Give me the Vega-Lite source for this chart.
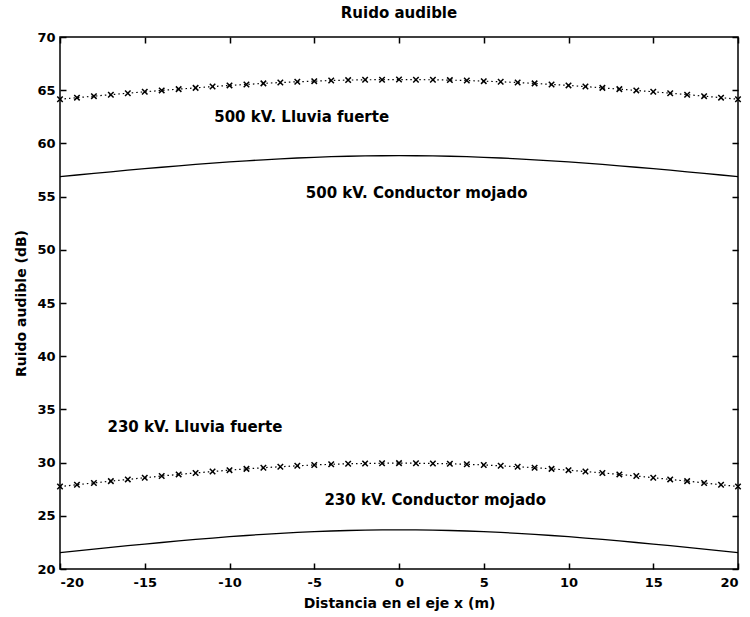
{
  "$schema": "https://vega.github.io/schema/vega-lite/v6.json",
  "autosize": "none",
  "width": 678,
  "height": 532,
  "padding": {"left": 60, "top": 37, "right": 12, "bottom": 48},
  "background": "white",
  "title": {"text": "Ruido audible", "font": "DejaVu Sans", "fontSize": 15, "fontWeight": "bold", "color": "black", "offset": 10},
  "config": {
    "view": {"stroke": "black", "strokeWidth": 1.5},
    "axis": {"labelFont": "DejaVu Sans", "labelFontWeight": "bold", "labelFontSize": 13, "labelColor": "black", "titleFont": "DejaVu Sans", "titleFontWeight": "bold", "titleFontSize": 14, "titleColor": "black", "domain": false, "grid": false, "ticks": true, "tickColor": "black", "tickWidth": 1.5, "tickSize": 6, "offset": -6, "zindex": 2, "labelExpr": "'' + datum.value"}
  },
  "datasets": {
    "curves": [
      {"x": -20, "s": "500 lluvia", "v": 64.15}, {"x": -19, "s": "500 lluvia", "v": 64.30}, {"x": -18, "s": "500 lluvia", "v": 64.44}, {"x": -17, "s": "500 lluvia", "v": 64.58}, {"x": -16, "s": "500 lluvia", "v": 64.72}, {"x": -15, "s": "500 lluvia", "v": 64.85}, {"x": -14, "s": "500 lluvia", "v": 64.98}, {"x": -13, "s": "500 lluvia", "v": 65.10}, {"x": -12, "s": "500 lluvia", "v": 65.22}, {"x": -11, "s": "500 lluvia", "v": 65.34}, {"x": -10, "s": "500 lluvia", "v": 65.45}, {"x": -9, "s": "500 lluvia", "v": 65.54}, {"x": -8, "s": "500 lluvia", "v": 65.64}, {"x": -7, "s": "500 lluvia", "v": 65.72}, {"x": -6, "s": "500 lluvia", "v": 65.79}, {"x": -5, "s": "500 lluvia", "v": 65.85}, {"x": -4, "s": "500 lluvia", "v": 65.91}, {"x": -3, "s": "500 lluvia", "v": 65.95}, {"x": -2, "s": "500 lluvia", "v": 65.98}, {"x": -1, "s": "500 lluvia", "v": 65.99}, {"x": 0, "s": "500 lluvia", "v": 66.00}, {"x": 1, "s": "500 lluvia", "v": 65.99}, {"x": 2, "s": "500 lluvia", "v": 65.98}, {"x": 3, "s": "500 lluvia", "v": 65.95}, {"x": 4, "s": "500 lluvia", "v": 65.91}, {"x": 5, "s": "500 lluvia", "v": 65.85}, {"x": 6, "s": "500 lluvia", "v": 65.79}, {"x": 7, "s": "500 lluvia", "v": 65.72}, {"x": 8, "s": "500 lluvia", "v": 65.64}, {"x": 9, "s": "500 lluvia", "v": 65.54}, {"x": 10, "s": "500 lluvia", "v": 65.45}, {"x": 11, "s": "500 lluvia", "v": 65.34}, {"x": 12, "s": "500 lluvia", "v": 65.22}, {"x": 13, "s": "500 lluvia", "v": 65.10}, {"x": 14, "s": "500 lluvia", "v": 64.98}, {"x": 15, "s": "500 lluvia", "v": 64.85}, {"x": 16, "s": "500 lluvia", "v": 64.72}, {"x": 17, "s": "500 lluvia", "v": 64.58}, {"x": 18, "s": "500 lluvia", "v": 64.44}, {"x": 19, "s": "500 lluvia", "v": 64.30}, {"x": 20, "s": "500 lluvia", "v": 64.15},
      {"x": -20, "s": "230 lluvia", "v": 27.75}, {"x": -19, "s": "230 lluvia", "v": 27.92}, {"x": -18, "s": "230 lluvia", "v": 28.09}, {"x": -17, "s": "230 lluvia", "v": 28.26}, {"x": -16, "s": "230 lluvia", "v": 28.42}, {"x": -15, "s": "230 lluvia", "v": 28.58}, {"x": -14, "s": "230 lluvia", "v": 28.74}, {"x": -13, "s": "230 lluvia", "v": 28.89}, {"x": -12, "s": "230 lluvia", "v": 29.03}, {"x": -11, "s": "230 lluvia", "v": 29.16}, {"x": -10, "s": "230 lluvia", "v": 29.29}, {"x": -9, "s": "230 lluvia", "v": 29.41}, {"x": -8, "s": "230 lluvia", "v": 29.52}, {"x": -7, "s": "230 lluvia", "v": 29.61}, {"x": -6, "s": "230 lluvia", "v": 29.70}, {"x": -5, "s": "230 lluvia", "v": 29.78}, {"x": -4, "s": "230 lluvia", "v": 29.84}, {"x": -3, "s": "230 lluvia", "v": 29.89}, {"x": -2, "s": "230 lluvia", "v": 29.92}, {"x": -1, "s": "230 lluvia", "v": 29.94}, {"x": 0, "s": "230 lluvia", "v": 29.95}, {"x": 1, "s": "230 lluvia", "v": 29.94}, {"x": 2, "s": "230 lluvia", "v": 29.92}, {"x": 3, "s": "230 lluvia", "v": 29.89}, {"x": 4, "s": "230 lluvia", "v": 29.84}, {"x": 5, "s": "230 lluvia", "v": 29.78}, {"x": 6, "s": "230 lluvia", "v": 29.70}, {"x": 7, "s": "230 lluvia", "v": 29.61}, {"x": 8, "s": "230 lluvia", "v": 29.52}, {"x": 9, "s": "230 lluvia", "v": 29.41}, {"x": 10, "s": "230 lluvia", "v": 29.29}, {"x": 11, "s": "230 lluvia", "v": 29.16}, {"x": 12, "s": "230 lluvia", "v": 29.03}, {"x": 13, "s": "230 lluvia", "v": 28.89}, {"x": 14, "s": "230 lluvia", "v": 28.74}, {"x": 15, "s": "230 lluvia", "v": 28.58}, {"x": 16, "s": "230 lluvia", "v": 28.42}, {"x": 17, "s": "230 lluvia", "v": 28.26}, {"x": 18, "s": "230 lluvia", "v": 28.09}, {"x": 19, "s": "230 lluvia", "v": 27.92}, {"x": 20, "s": "230 lluvia", "v": 27.75},
      {"x": -20, "s": "500 mojado", "v": 56.87}, {"x": -19, "s": "500 mojado", "v": 57.03}, {"x": -18, "s": "500 mojado", "v": 57.18}, {"x": -17, "s": "500 mojado", "v": 57.33}, {"x": -16, "s": "500 mojado", "v": 57.48}, {"x": -15, "s": "500 mojado", "v": 57.62}, {"x": -14, "s": "500 mojado", "v": 57.76}, {"x": -13, "s": "500 mojado", "v": 57.89}, {"x": -12, "s": "500 mojado", "v": 58.02}, {"x": -11, "s": "500 mojado", "v": 58.14}, {"x": -10, "s": "500 mojado", "v": 58.26}, {"x": -9, "s": "500 mojado", "v": 58.36}, {"x": -8, "s": "500 mojado", "v": 58.46}, {"x": -7, "s": "500 mojado", "v": 58.55}, {"x": -6, "s": "500 mojado", "v": 58.63}, {"x": -5, "s": "500 mojado", "v": 58.69}, {"x": -4, "s": "500 mojado", "v": 58.75}, {"x": -3, "s": "500 mojado", "v": 58.79}, {"x": -2, "s": "500 mojado", "v": 58.82}, {"x": -1, "s": "500 mojado", "v": 58.84}, {"x": 0, "s": "500 mojado", "v": 58.85}, {"x": 1, "s": "500 mojado", "v": 58.84}, {"x": 2, "s": "500 mojado", "v": 58.82}, {"x": 3, "s": "500 mojado", "v": 58.79}, {"x": 4, "s": "500 mojado", "v": 58.75}, {"x": 5, "s": "500 mojado", "v": 58.69}, {"x": 6, "s": "500 mojado", "v": 58.63}, {"x": 7, "s": "500 mojado", "v": 58.55}, {"x": 8, "s": "500 mojado", "v": 58.46}, {"x": 9, "s": "500 mojado", "v": 58.36}, {"x": 10, "s": "500 mojado", "v": 58.26}, {"x": 11, "s": "500 mojado", "v": 58.14}, {"x": 12, "s": "500 mojado", "v": 58.02}, {"x": 13, "s": "500 mojado", "v": 57.89}, {"x": 14, "s": "500 mojado", "v": 57.76}, {"x": 15, "s": "500 mojado", "v": 57.62}, {"x": 16, "s": "500 mojado", "v": 57.48}, {"x": 17, "s": "500 mojado", "v": 57.33}, {"x": 18, "s": "500 mojado", "v": 57.18}, {"x": 19, "s": "500 mojado", "v": 57.03}, {"x": 20, "s": "500 mojado", "v": 56.87},
      {"x": -20, "s": "230 mojado", "v": 21.53}, {"x": -19, "s": "230 mojado", "v": 21.70}, {"x": -18, "s": "230 mojado", "v": 21.86}, {"x": -17, "s": "230 mojado", "v": 22.03}, {"x": -16, "s": "230 mojado", "v": 22.19}, {"x": -15, "s": "230 mojado", "v": 22.34}, {"x": -14, "s": "230 mojado", "v": 22.49}, {"x": -13, "s": "230 mojado", "v": 22.64}, {"x": -12, "s": "230 mojado", "v": 22.78}, {"x": -11, "s": "230 mojado", "v": 22.91}, {"x": -10, "s": "230 mojado", "v": 23.04}, {"x": -9, "s": "230 mojado", "v": 23.15}, {"x": -8, "s": "230 mojado", "v": 23.26}, {"x": -7, "s": "230 mojado", "v": 23.35}, {"x": -6, "s": "230 mojado", "v": 23.44}, {"x": -5, "s": "230 mojado", "v": 23.51}, {"x": -4, "s": "230 mojado", "v": 23.57}, {"x": -3, "s": "230 mojado", "v": 23.62}, {"x": -2, "s": "230 mojado", "v": 23.65}, {"x": -1, "s": "230 mojado", "v": 23.67}, {"x": 0, "s": "230 mojado", "v": 23.68}, {"x": 1, "s": "230 mojado", "v": 23.67}, {"x": 2, "s": "230 mojado", "v": 23.65}, {"x": 3, "s": "230 mojado", "v": 23.62}, {"x": 4, "s": "230 mojado", "v": 23.57}, {"x": 5, "s": "230 mojado", "v": 23.51}, {"x": 6, "s": "230 mojado", "v": 23.44}, {"x": 7, "s": "230 mojado", "v": 23.35}, {"x": 8, "s": "230 mojado", "v": 23.26}, {"x": 9, "s": "230 mojado", "v": 23.15}, {"x": 10, "s": "230 mojado", "v": 23.04}, {"x": 11, "s": "230 mojado", "v": 22.91}, {"x": 12, "s": "230 mojado", "v": 22.78}, {"x": 13, "s": "230 mojado", "v": 22.64}, {"x": 14, "s": "230 mojado", "v": 22.49}, {"x": 15, "s": "230 mojado", "v": 22.34}, {"x": 16, "s": "230 mojado", "v": 22.19}, {"x": 17, "s": "230 mojado", "v": 22.03}, {"x": 18, "s": "230 mojado", "v": 21.86}, {"x": 19, "s": "230 mojado", "v": 21.70}, {"x": 20, "s": "230 mojado", "v": 21.53}
    ],
    "labels": [
      {"x": -10.9, "v": 62.48, "t": "500 kV. Lluvia fuerte"},
      {"x": -5.5, "v": 55.34, "t": "500 kV. Conductor mojado"},
      {"x": -17.2, "v": 33.35, "t": "230 kV. Lluvia fuerte"},
      {"x": -4.4, "v": 26.48, "t": "230 kV. Conductor mojado"}
    ]
  },
  "layer": [
    {
      "data": {"name": "curves"},
      "transform": [{"filter": "indexof(datum.s, 'mojado') >= 0"}],
      "mark": {"type": "line", "color": "black", "strokeWidth": 1.3, "clip": true},
      "encoding": {
        "x": {"field": "x", "type": "quantitative", "scale": {"domain": [-20, 20], "nice": false},
              "axis": {"orient": "bottom", "values": [-20, -15, -10, -5, 0, 5, 10, 15, 20], "title": "Distancia en el eje x (m)", "labelPadding": 7, "titlePadding": 7}},
        "y": {"field": "v", "type": "quantitative", "scale": {"domain": [20, 70], "nice": false, "zero": false},
              "axis": {"orient": "left", "values": [20, 25, 30, 35, 40, 45, 50, 55, 60, 65, 70], "title": "Ruido audible (dB)", "labelPadding": 5, "titlePadding": 8}},
        "detail": {"field": "s"}
      }
    },
    {
      "data": {"name": "curves"},
      "transform": [{"filter": "indexof(datum.s, 'lluvia') >= 0"}],
      "mark": {"type": "line", "color": "black", "strokeWidth": 1.2, "strokeDash": [1.5, 3], "clip": true},
      "encoding": {
        "x": {"field": "x", "type": "quantitative", "axis": {"orient": "top", "values": [-20, -15, -10, -5, 0, 5, 10, 15, 20], "labels": false, "title": null}},
        "y": {"field": "v", "type": "quantitative", "axis": {"orient": "right", "values": [20, 25, 30, 35, 40, 45, 50, 55, 60, 65, 70], "labels": false, "title": null}},
        "detail": {"field": "s"}
      }
    },
    {
      "data": {"name": "curves"},
      "transform": [{"filter": "indexof(datum.s, 'lluvia') >= 0"}],
      "mark": {"type": "point", "shape": "M-1,-1L1,1M-1,1L1,-1", "size": 30, "stroke": "black", "strokeWidth": 1.5, "filled": false, "opacity": 1, "clip": false},
      "encoding": {
        "x": {"field": "x", "type": "quantitative", "axis": null},
        "y": {"field": "v", "type": "quantitative", "axis": null}
      }
    },
    {
      "data": {"name": "labels"},
      "mark": {"type": "text", "align": "left", "baseline": "middle", "font": "DejaVu Sans", "fontWeight": "bold", "fontSize": 15, "color": "black"},
      "encoding": {
        "x": {"field": "x", "type": "quantitative", "axis": null},
        "y": {"field": "v", "type": "quantitative", "axis": null},
        "text": {"field": "t"}
      }
    }
  ],
  "resolve": {"axis": {"x": "independent", "y": "independent"}}
}
